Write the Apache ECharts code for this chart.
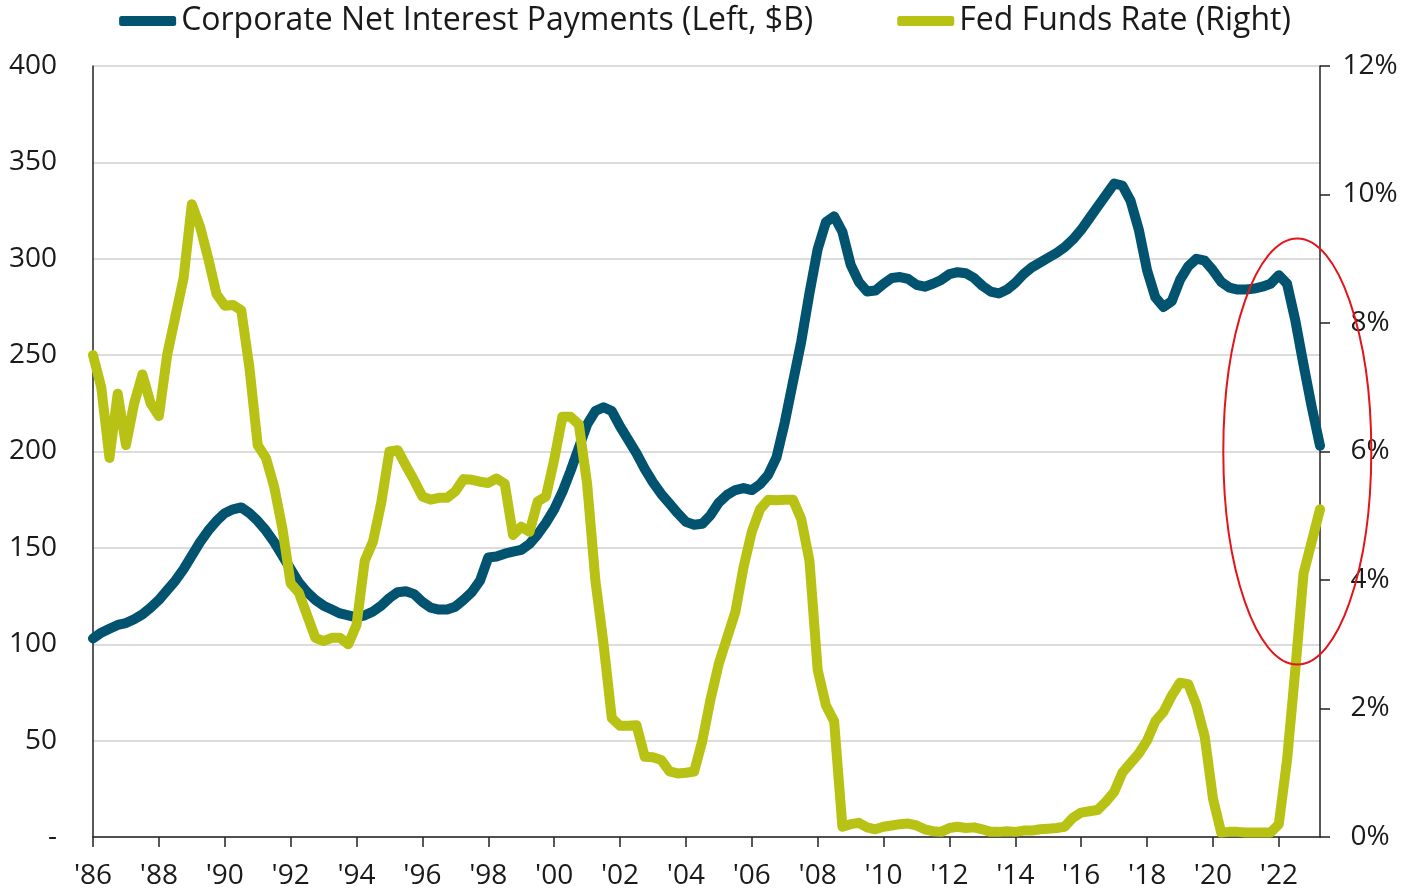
<!DOCTYPE html>
<html>
	<head>
		<meta charset="utf-8">
		<title>Corporate net interest vs Fed funds</title>
		<script src="https://cdn.jsdelivr.net/npm/echarts@6/dist/echarts.min.js"></script>
		<style>
			html, body {
				margin: 0;
				padding: 0;
				background: #fff;
			}
		</style>
	</head>
	<body>
		<div id="chart" style="width:1410px;height:893px"></div>
		<script type="text/javascript">
			// quarterly, 1986Q1 .. 2023Q2
			var quarters = [];
			for (var y = 1986; y <= 2023; y++) {
				for (var q = 1; q <= 4; q++) {
					if (y == 2023 && q > 2) break;
					quarters.push(y + 'Q' + q);
				}
			}

			// Corporate net interest payments, $B (left axis)
			var netInterest = [
				103, 106, 108, 110, 111, 113, 115.5, 119, 123, 128,
				133, 139, 146, 153, 159, 164, 168, 170, 171, 168,
				164, 159, 153, 146, 139, 132, 127, 123, 120, 118,
				116, 115, 114, 115, 117, 120, 124, 127, 127.5, 126,
				122, 119, 118, 118, 119.5, 123, 127, 133, 145, 145.5,
				147, 148, 149, 152, 157, 163, 170, 179, 190, 202,
				214, 221, 223, 221, 213, 206, 199, 191, 184, 178,
				173, 168, 163.5, 162, 162.5, 167, 173.5, 177.5, 180, 181,
				180, 183, 188, 197, 215, 236, 257, 282, 305, 319,
				322, 314, 297, 288, 283, 283.5, 287, 290, 290.5, 289.5,
				286.5, 285.5, 287, 289, 292, 293, 292.5, 290, 286, 283,
				282, 284, 287.5, 292, 295.5, 298, 300.5, 303, 306, 310,
				315, 321, 327, 333, 339, 338, 330, 315, 294, 280,
				275, 278, 289, 296, 300, 299, 294, 288, 285, 284,
				284, 284.5, 285.5, 287, 291.5, 287, 268, 245, 223, 203
			];

			// Fed funds rate, % (right axis)
			var fedFunds = [
				7.5, 7.0, 5.9, 6.9, 6.1, 6.75, 7.2, 6.75, 6.55, 7.5,
				8.1, 8.7, 9.85, 9.5, 9.0, 8.45, 8.27, 8.28, 8.2, 7.3,
				6.1, 5.9, 5.45, 4.8, 3.95, 3.8, 3.45, 3.1, 3.05, 3.1,
				3.1, 3.0, 3.3, 4.3, 4.6, 5.2, 6.0, 6.02, 5.78, 5.55,
				5.3, 5.25, 5.28, 5.28, 5.38, 5.57, 5.56, 5.53, 5.51, 5.58,
				5.5, 4.7, 4.83, 4.75, 5.22, 5.3, 5.87, 6.54, 6.54, 6.42,
				5.5, 4.0, 3.0, 1.85, 1.73, 1.73, 1.74, 1.25, 1.24, 1.2,
				1.02, 0.99, 1.0, 1.02, 1.5, 2.15, 2.7, 3.1, 3.5, 4.2,
				4.75, 5.1, 5.25, 5.24, 5.25, 5.25, 4.95, 4.3, 2.6, 2.05,
				1.8, 0.16, 0.2, 0.22, 0.15, 0.12, 0.16, 0.18, 0.2, 0.21,
				0.18, 0.12, 0.09, 0.08, 0.14, 0.16, 0.14, 0.15, 0.12, 0.08,
				0.08, 0.09, 0.08, 0.1, 0.1, 0.12, 0.13, 0.14, 0.16, 0.3,
				0.38, 0.4, 0.42, 0.55, 0.7, 1.0, 1.15, 1.3, 1.5, 1.8,
				1.95, 2.2, 2.4, 2.38, 2.05, 1.56, 0.6, 0.07, 0.08, 0.08,
				0.07, 0.07, 0.07, 0.07, 0.2, 1.2, 2.6, 4.1, 4.6, 5.1
			];

			var seriesNames = ['Corporate Net Interest Payments (Left, $B)', 'Fed Funds Rate (Right)'];
			var blue = '#02536f';
			var olive = '#b8c214';
			var font = '"Open Sans", "Noto Sans", sans-serif';

			var myChart = echarts.init(document.getElementById('chart'));
			var option = {
				animation: false,
				textStyle: { fontFamily: font },
				legend: {
					top: 0,
					left: 'center',
					icon: 'roundRect',
					itemWidth: 57,
					itemHeight: 10,
					itemGap: 84,
					textStyle: { fontSize: 32, color: '#1a1a1a', fontFamily: font },
					data: seriesNames
				},
				grid: { left: 93, right: 90, top: 66, bottom: 56 },
				xAxis: {
					type: 'category',
					data: quarters,
					boundaryGap: false,
					axisLine: { lineStyle: { color: '#222', width: 1.5 } },
					axisTick: { interval: 7, length: 10, lineStyle: { color: '#222', width: 1.5 } },
					axisLabel: {
						interval: 7,
						margin: 25,
						fontSize: 28,
						color: '#1a1a1a',
						formatter: function (v) { return "'" + v.slice(2, 4); }
					},
					splitLine: { show: false }
				},
				yAxis: [
					{
						type: 'value',
						min: 0, max: 400, interval: 50,
						axisLine: { show: true, lineStyle: { color: '#222', width: 1.5 } },
						axisTick: { show: false },
						axisLabel: {
							margin: 36, fontSize: 28, color: '#1a1a1a',
							formatter: function (v) { return v === 0 ? '-' : v; }
						},
						splitLine: { lineStyle: { color: '#dcdcdc', width: 2 } }
					},
					{
						type: 'value',
						min: 0, max: 12, interval: 2,
						position: 'right',
						axisLine: { show: true, lineStyle: { color: '#222', width: 1.5 } },
						axisTick: { show: true, length: 10, lineStyle: { color: '#222', width: 1.5 } },
						axisLabel: {
							margin: 50, align: 'center', fontSize: 28, color: '#1a1a1a',
							formatter: '{value}%'
						},
						splitLine: { show: false }
					}
				],
				series: [
					{
						name: seriesNames[0],
						type: 'line',
						yAxisIndex: 0,
						data: netInterest,
						showSymbol: false,
						symbol: 'none',
						color: blue,
						lineStyle: { width: 10, color: blue, cap: 'round', join: 'round' }
					},
					{
						name: seriesNames[1],
						type: 'line',
						yAxisIndex: 1,
						data: fedFunds,
						showSymbol: false,
						symbol: 'none',
						color: olive,
						lineStyle: { width: 10, color: olive, cap: 'round', join: 'round' }
					}
				]
			};
			myChart.setOption(option);

			// red ellipse around the last quarters
			var c = myChart.convertToPixel({ xAxisIndex: 0, yAxisIndex: 0 }, [quarters[146], 200]);
			myChart.setOption({
				graphic: [{
					type: 'ellipse',
					z: 100,
					shape: { cx: c[0] + 2, cy: c[1], rx: 74, ry: 213 },
					style: { fill: 'none', stroke: '#e3151a', lineWidth: 2 }
				}]
			});
		</script>
	</body>
</html>
